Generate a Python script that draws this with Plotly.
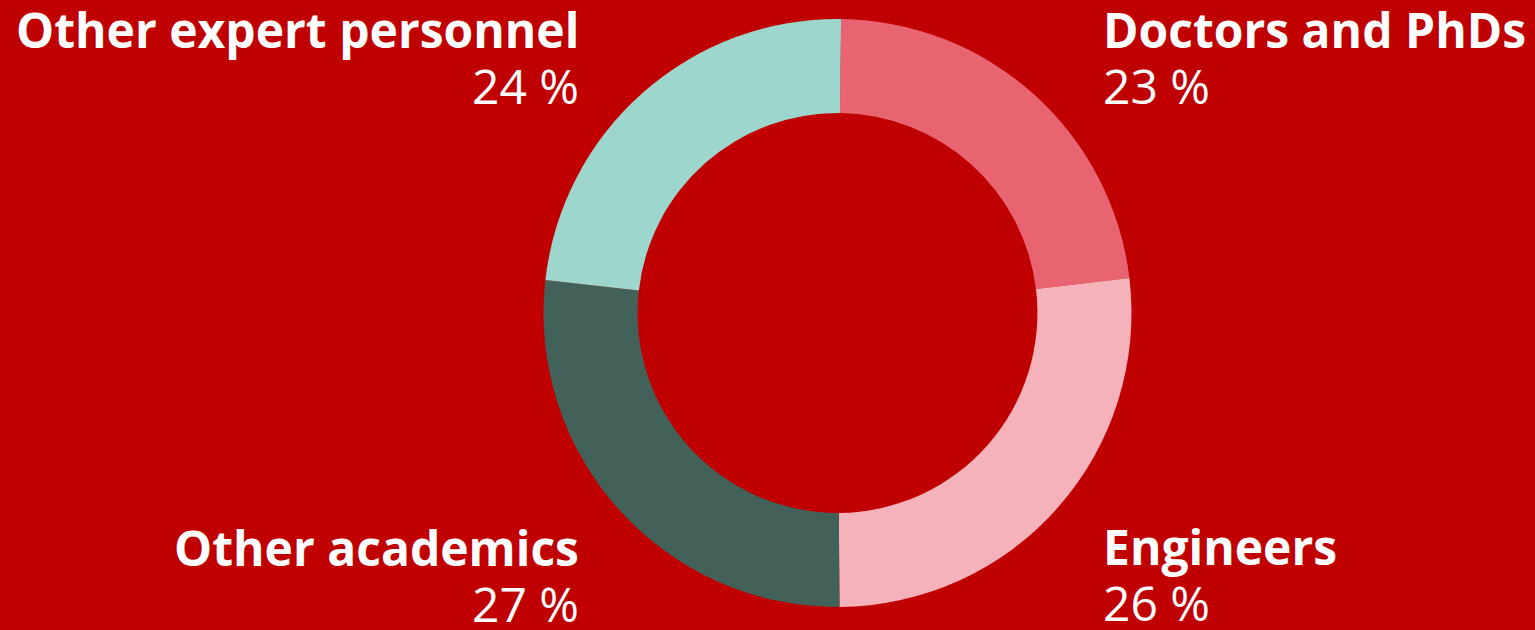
import plotly.graph_objects as go

categories = ["Doctors and PhDs", "Engineers", "Other academics", "Other expert personnel"]
values = [22.9, 26.8, 26.9, 23.4]
pct_labels = ["23 %", "26 %", "27 %", "24 %"]
colors = ["#E86470", "#F5B2BA", "#416159", "#9DD6CC"]

W, H = 1535, 630
BG = "#C00000"

fig = go.Figure(go.Pie(
    labels=categories,
    values=values,
    sort=False,
    direction="clockwise",
    rotation=0.7,
    hole=0.68,
    marker=dict(colors=colors, line=dict(width=0)),
    textinfo="none",
    hoverinfo="label",
    showlegend=False,
    domain=dict(x=[543.5 / W, 1131.5 / W], y=[23 / H, 611 / H]),
))

# label positions: (x_px, title top_px, anchor)
pos = {
    "Doctors and PhDs": (1102, -4.5, "left"),
    "Engineers": (1102, 513, "left"),
    "Other academics": (580, 514, "right"),
    "Other expert personnel": (580, -4.5, "right"),
}
FS = 48
annotations = []
for cat, pl in zip(categories, pct_labels):
    x, ytop, anchor = pos[cat]
    annotations.append(dict(
        x=x / W, y=1 - ytop / H, xref="paper", yref="paper",
        xanchor=anchor, yanchor="top", showarrow=False,
        text="<b>" + cat + "</b>",
        font=dict(family="Open Sans", size=FS, color="white"),
        borderpad=0,
    ))
    annotations.append(dict(
        x=x / W, y=1 - (ytop + 56) / H, xref="paper", yref="paper",
        xanchor=anchor, yanchor="top", showarrow=False,
        text=pl,
        font=dict(family="Open Sans", size=FS, color="white"),
        borderpad=0,
    ))

fig.update_layout(
    width=W, height=H,
    margin=dict(l=0, r=0, t=0, b=0),
    paper_bgcolor=BG, plot_bgcolor=BG,
    annotations=annotations,
)

fig.write_html("out.html", config={"displayModeBar": False})
